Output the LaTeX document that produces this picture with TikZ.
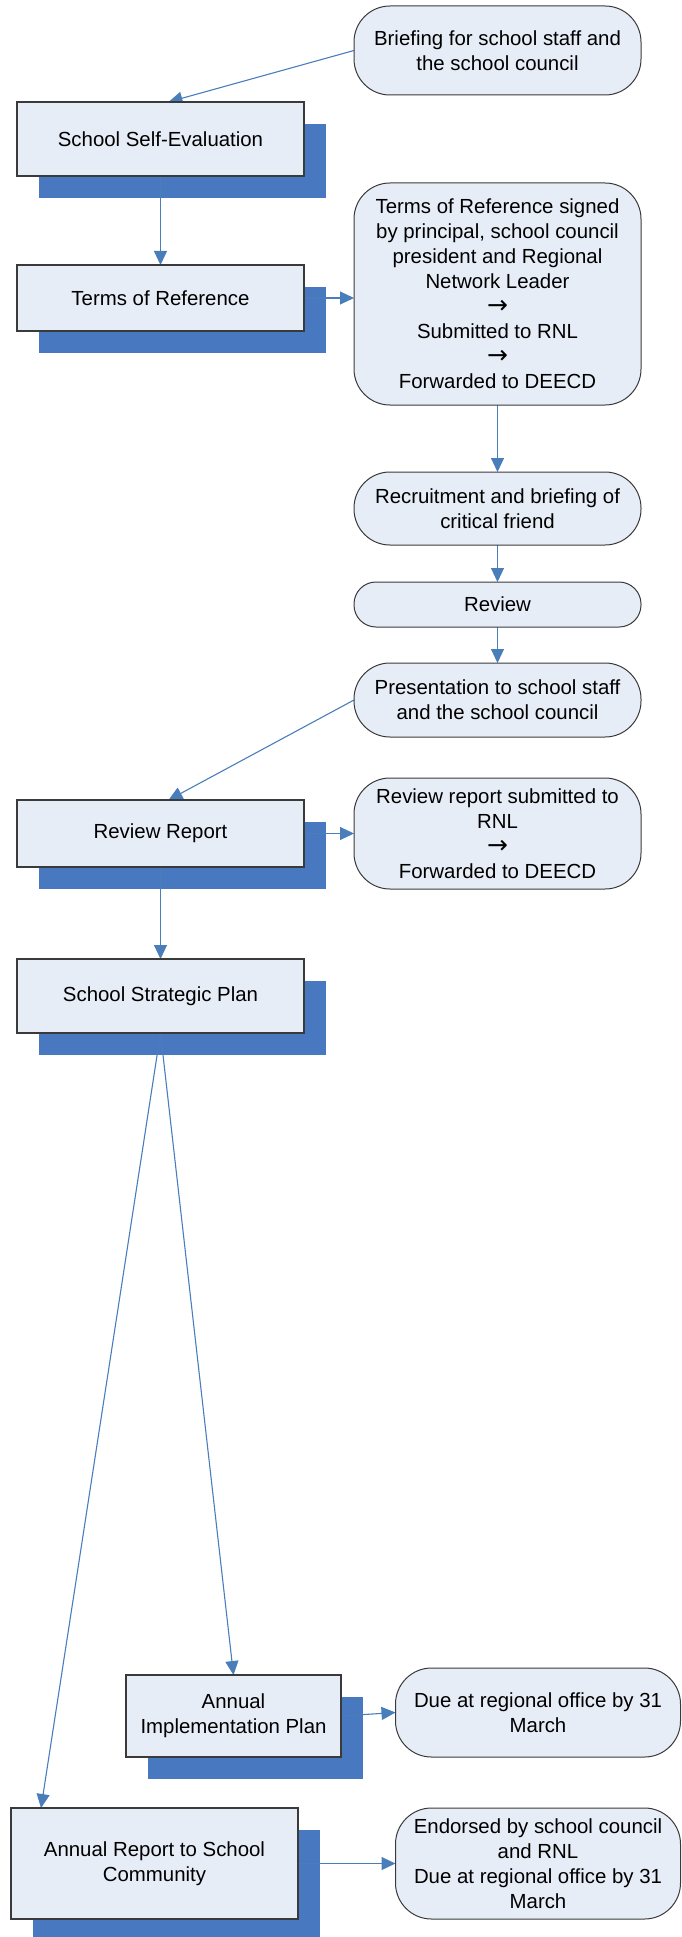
\documentclass[tikz,border=0pt]{standalone}
\usepackage{fontspec}
\setmainfont{Liberation Sans}
\newfontfamily\arrowfont{DejaVu Sans}
\newcommand{\rarr}{{\fontsize{12.5pt}{12.5pt}\arrowfont →}}
\usetikzlibrary{arrows.meta,calc}
\definecolor{boxfill}{HTML}{E7EDF7}
\definecolor{shadowblue}{HTML}{4878C0}
\definecolor{linkblue}{HTML}{4A7EBB}
\definecolor{borderc}{HTML}{3A3A3A}
\pgfdeclarelayer{shadowlayer}
\pgfdeclarelayer{linklayer}
\pgfsetlayers{shadowlayer,linklayer,main}
\begin{document}
\begin{tikzpicture}[x=0.5pt,y=-0.5pt,
  every node/.style={font=\fontsize{10.2pt}{12.5pt}\selectfont, align=center, inner sep=0pt, outer sep=0pt},
  procbox/.style={draw=borderc, line width=0.55pt, fill=boxfill, rectangle, minimum width=143.5pt},
  termbox/.style={draw=borderc, line width=0.5pt, fill=boxfill, rectangle, rounded corners=18pt, minimum width=143.5pt},
  link/.style={draw=linkblue, line width=0.55pt, -{Triangle[length=7pt,width=6.5pt]}},
  shadowfill/.style={fill=shadowblue}
]
\useasboundingbox (0,0) rectangle (681,1937);

% right column terminators
\node[termbox, minimum height=44.5pt] (brief) at (497.5,50.5) {Briefing for school staff and\\the school council};
\node[termbox, minimum height=111pt] (torr) at (497.5,294) {Terms of Reference signed\\by principal, school council\\president and Regional\\Network Leader\\\rarr\\Submitted to RNL\\\rarr\\Forwarded to DEECD};
\node[termbox, minimum height=36.5pt] (recr) at (497.5,508.5) {Recruitment and briefing of\\critical friend};
\node[termbox, rounded corners=11pt, minimum height=22.5pt] (review) at (497.5,604.5) {Review};
\node[termbox, minimum height=37pt] (pres) at (497.5,700) {Presentation to school staff\\and the school council};
\node[termbox, minimum height=55.5pt] (rrs) at (497.5,833.5) {Review report submitted to\\RNL\\\rarr\\Forwarded to DEECD};
\node[termbox, minimum width=142.5pt, minimum height=44.5pt] (due) at (538,1712.5) {Due at regional office by 31\\March};
\node[termbox, minimum width=142.5pt, minimum height=55.5pt] (endo) at (538,1863.5) {Endorsed by school council\\and RNL\\Due at regional office by 31\\March};

% left column process boxes
\node[procbox, minimum height=37pt] (sse) at (160.5,139) {School Self-Evaluation};
\node[procbox, minimum height=33pt] (tor) at (160.5,298) {Terms of Reference};
\node[procbox, minimum height=33.5pt] (rr) at (160.5,833.5) {Review Report};
\node[procbox, minimum height=37pt] (ssp) at (160.5,996) {School Strategic Plan};
\node[procbox, minimum width=107.5pt, minimum height=41pt] (aip) at (233.5,1716) {Annual\\Implementation Plan};
\node[procbox, minimum height=55.5pt] (ar) at (154.5,1863.5) {Annual Report to School\\Community};

% shadows
\begin{pgfonlayer}{shadowlayer}
\foreach \n in {sse,tor,rr,ssp,aip,ar}{
  \fill[shadowfill] ([shift={(11pt,-11pt)}]\n.south west) rectangle ([shift={(11pt,-11pt)}]\n.north east);
}
\end{pgfonlayer}

% connectors
\begin{pgfonlayer}{linklayer}
\draw[link] (brief.west) -- ([xshift=4pt]sse.north);
\draw[link] (sse.south) -- (tor.north);
\draw[link] (tor.east) -- (tor.east -| torr.west);
\draw[link] (torr.south) -- (recr.north);
\draw[link] (recr.south) -- (review.north);
\draw[link] (review.south) -- (pres.north);
\draw[link] (pres.west) -- ([xshift=4pt]rr.north);
\draw[link] (rr.east) -- (rrs.west);
\draw[link] (rr.south) -- (ssp.north);
\draw[link] (ssp.south) -- (aip.north);
\draw[link] (ssp.south) -- ([xshift=-56.75pt]ar.north);
\draw[link] (aip.east) -- (due.west);
\draw[link] (ar.east) -- (endo.west);
\end{pgfonlayer}
\end{tikzpicture}
\end{document}
